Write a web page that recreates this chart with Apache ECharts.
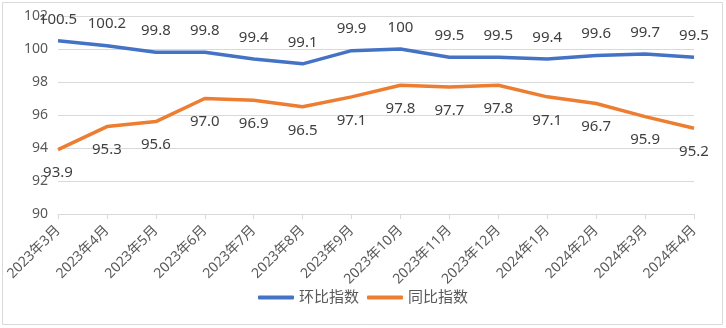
<!DOCTYPE html>
<html><head><meta charset="utf-8">
<script src="https://cdn.jsdelivr.net/npm/echarts@6/dist/echarts.min.js"></script>
<style>html,body{margin:0;padding:0;background:#fff}#c{width:726px;height:328px}</style>
</head><body><div id="c"></div>
<script>
const categories = ['2023年3月','2023年4月','2023年5月','2023年6月','2023年7月','2023年8月','2023年9月','2023年10月','2023年11月','2023年12月','2024年1月','2024年2月','2024年3月','2024年4月'];
const momValues = [100.5,100.2,99.8,99.8,99.4,99.1,99.9,100,99.5,99.5,99.4,99.6,99.7,99.5];
const yoyValues = [93.9,95.3,95.6,97.0,96.9,96.5,97.1,97.8,97.7,97.8,97.1,96.7,95.9,95.2];
const yoyLabels = ['93.9','95.3','95.6','97.0','96.9','96.5','97.1','97.8','97.7','97.8','97.1','96.7','95.9','95.2'];
const seriesNames = ['环比指数','同比指数'];

const chart = echarts.init(document.getElementById('c'), null, {renderer:'canvas'});
const font = '"Noto Sans", "Noto Sans CJK SC", sans-serif';
chart.setOption({
  animation:false,
  textStyle:{fontFamily:font},
  graphic:[{type:'rect',shape:{x:2.5,y:2.5,width:720,height:322},style:{fill:'none',stroke:'#d9d9d9',lineWidth:1},silent:true}],
  grid:{left:58,right:32,top:16,bottom:114,containLabel:false},
  legend:{bottom:18,left:'center',itemWidth:36,itemHeight:4,itemGap:8,icon:'roundRect',
    textStyle:{color:'#595959',fontSize:15,fontFamily:font},
    data:seriesNames},
  xAxis:{type:'category',data:categories,boundaryGap:false,
    axisLine:{lineStyle:{color:'#d9d9d9'}},
    axisTick:{show:true,alignWithLabel:true,length:5,lineStyle:{color:'#d9d9d9'}},
    axisLabel:{rotate:45,color:'#595959',fontSize:14,margin:14,interval:0,fontFamily:font}},
  yAxis:{type:'value',min:90,max:102,interval:2,
    axisLine:{show:false},axisTick:{show:false},
    splitLine:{lineStyle:{color:'#d9d9d9'}},
    axisLabel:{color:'#595959',fontSize:14,margin:10,fontFamily:font}},
  series:[
    {name:seriesNames[0],type:'line',data:momValues,showSymbol:true,symbol:'circle',symbolSize:0,
     lineStyle:{color:'#4472C4',width:3.5},itemStyle:{color:'#4472C4'},
     label:{show:true,position:'top',distance:14,color:'#404040',fontSize:15,fontFamily:font}},
    {name:seriesNames[1],type:'line',data:yoyValues,showSymbol:true,symbol:'circle',symbolSize:0,
     lineStyle:{color:'#ED7D31',width:3.5},itemStyle:{color:'#ED7D31'},
     label:{show:true,position:'bottom',distance:16,color:'#404040',fontSize:15,fontFamily:font,
       formatter:p=>yoyLabels[p.dataIndex]}}
  ]
});
</script></body></html>
